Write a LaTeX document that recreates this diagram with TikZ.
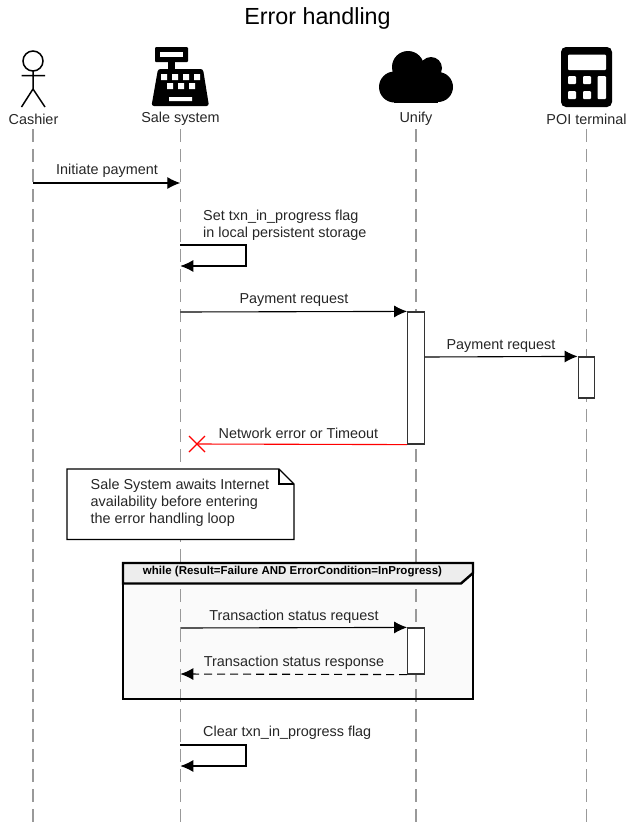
\documentclass[tikz,border=0pt]{standalone}
\usepackage{fontspec}
\setmainfont{Liberation Sans}
\usetikzlibrary{arrows.meta}
\tikzset{
  lifeline/.style={draw=black!40,line width=1.1pt,dash pattern=on 13pt off 7pt},
  msg/.style={line width=1.1pt,-{Latex[length=13pt,width=12pt]}},
  msgtext/.style={inner sep=1pt,text=black!85,font=\fontsize{14.4}{17}\selectfont},
  headtext/.style={msgtext,anchor=center},
  actbar/.style={draw=black!80,fill=white,line width=1.2pt,minimum width=16.5pt,inner sep=0pt},
}
\begin{document}
\begin{tikzpicture}[x=1pt,y=-1pt,line join=miter]
  \useasboundingbox (0,0) rectangle (635,823);
  \node (title) [inner sep=0pt,font=\fontsize{23.3}{26}\selectfont] at (317.5,18) {Error handling};

  % frame background, under the lifelines
  \fill [black!2] (123,563) rectangle (473,699);

  % actors
  \node (cashier) [headtext] at (33.5,119) {Cashier};
  \node (sale) [headtext] at (180.5,119) {Sale system};
  \node (unify) [headtext] at (416,119) {Unify};
  \node (poi) [headtext] at (586.5,119) {POI terminal};
  \foreach \name/\x in {cashier/33,sale/180.3,unify/416,poi/586.5} {
      \coordinate (\name top) at (\x,129);
      \coordinate (\name end) at (\x,823);
      \draw [lifeline] (\name top) -- (\name end);
    }

  % stick figure
  \draw [line width=1.5pt] (33,61) circle (10);
  \draw [line width=1.5pt] (33,71) -- (33,89) (21.5,75.5) -- (45,75.5)
    (21.5,107) -- (33,89) -- (45,107);
  % cash register
  \fill [rounded corners=1pt] (155,47) rectangle (188,62);
  \fill [white] (160,52) rectangle (183,57);
  \fill (168,62) rectangle (175,70);
  \fill [rounded corners=2.5pt] (158,69) -- (203,69) -- (209,106) -- (151.5,106) -- cycle;
  \fill [white] (161,74) rectangle (167,80) (172,74) rectangle (178,80)
    (183,74) rectangle (189,80) (194,74) rectangle (200,80)
    (167,83) rectangle (173,89) (178,83) rectangle (184,89) (189,83) rectangle (195,89)
    (169,97) rectangle (192,101);
  % cloud
  \fill (408,67) circle (16) (431,68) circle (11) (394.5,87) circle (15.5) (438,87) circle (15);
  \fill (394,72) rectangle (438,102.5);
  % calculator
  \fill [rounded corners=5pt] (561,47) rectangle (612,107);
  \fill [white,rounded corners=1pt] (568,54.5) rectangle (606,70);
  \fill [white,rounded corners=1pt] (568,76) rectangle (576,84) (583,76) rectangle (591,84)
    (597.5,76) rectangle (606,99) (568,91) rectangle (576,99) (583,91) rectangle (591,99);

  % activation bars
  \node (barone) [actbar,minimum height=132pt] at (416,378) {};
  \node (bartwo) [actbar,minimum height=41pt] at (586.5,377.5) {};
  \node (barthree) [actbar,minimum height=46pt] at (416,651) {};

  % messages
  \coordinate (a1) at (33,183);
  \coordinate (a2) at (180.3,183);
  \draw [msg] (a1) -- (a2);
  \node (ltxtone) [msgtext] at (107,171) {Initiate payment};

  \coordinate (b1) at (180.3,245);
  \coordinate (b2) at (246,245);
  \coordinate (b3) at (246,266);
  \coordinate (b4) at (180.3,266);
  \draw [msg] (b1) -- (b2) -- (b3) -- (b4);
  \node (ltxttwo) [msgtext,anchor=west,align=left] at (202,225) {Set txn\_in\_progress flag\\in local persistent storage};

  \coordinate (c1) at (180.3,312);
  \draw [msg] (c1) -- (barone.north west);
  \node (ltxtthree) [msgtext] at (294,300) {Payment request};

  \coordinate (d1) at (barone.east |- 0,357);
  \draw [msg] (d1) -- (bartwo.north west);
  \node (ltxtfour) [msgtext] at (501,346) {Payment request};

  \coordinate (e1) at (197,444);
  \draw [red,line width=1.1pt] (barone.south west) -- (e1);
  \draw [red,line width=1.1pt] (189,436) -- (205,452) (189,452) -- (205,436);
  \node (ltxtfive) [msgtext] at (298.5,433) {Network error or Timeout};

  % note
  \draw [line width=1.1pt,fill=white] (67,469) -- (279,469) -- (294,484) -- (294,539.5) -- (67,539.5) -- cycle;
  \draw [line width=1.1pt] (279,469) -- (279,484) -- (294,484);
  \node (notetxt) [msgtext,anchor=west,align=left] at (89.5,503) {Sale System awaits Internet\\availability before entering\\the error handling loop};

  % loop frame
  \draw [line width=2.4pt,fill=black!7] (123,563) -- (473,563) -- (473,573) -- (461,583.5) -- (123,583.5) -- cycle;
  \draw [line width=2.4pt] (123,563) rectangle (473,699);
  \node (frametxt) [inner sep=0pt,font=\bfseries\fontsize{11.5}{13}\selectfont] at (292.5,572) {while (Result=Failure AND ErrorCondition=InProgress)};

  \coordinate (f1) at (180.3,628);
  \draw [msg] (f1) -- (barthree.north west);
  \node (ltxtsix) [msgtext] at (294,617) {Transaction status request};

  \coordinate (g1) at (180.3,674);
  \draw [msg,dashed,dash pattern=on 8pt off 5pt] (barthree.south west) -- (g1);
  \node (ltxtseven) [msgtext] at (294,663) {Transaction status response};

  \coordinate (h1) at (180.3,745);
  \coordinate (h2) at (246,745);
  \coordinate (h3) at (246,766);
  \coordinate (h4) at (180.3,766);
  \draw [msg] (h1) -- (h2) -- (h3) -- (h4);
  \node (ltxteight) [msgtext,anchor=west] at (202,733) {Clear txn\_in\_progress flag};
\end{tikzpicture}
\end{document}
